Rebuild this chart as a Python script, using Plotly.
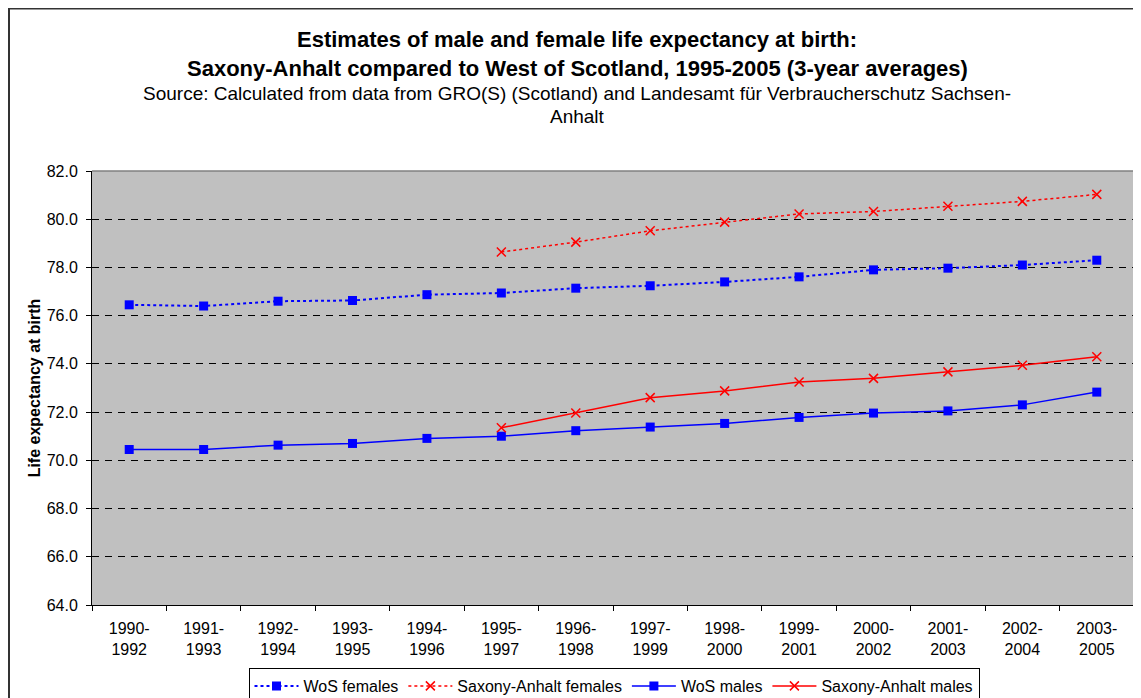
import plotly.graph_objects as go

categories = ["1990-<br>1992", "1991-<br>1993", "1992-<br>1994", "1993-<br>1995", "1994-<br>1996",
              "1995-<br>1997", "1996-<br>1998", "1997-<br>1999", "1998-<br>2000", "1999-<br>2001",
              "2000-<br>2002", "2001-<br>2003", "2002-<br>2004", "2003-<br>2005"]
wos_females = [76.45, 76.40, 76.60, 76.63, 76.87, 76.94, 77.14, 77.24, 77.40, 77.61, 77.90, 77.97, 78.10, 78.30]
sa_females = [None, None, None, None, None, 78.64, 79.05, 79.52, 79.88, 80.22, 80.32, 80.54, 80.74, 81.03]
wos_males = [70.45, 70.45, 70.63, 70.70, 70.91, 71.00, 71.23, 71.38, 71.53, 71.78, 71.96, 72.05, 72.30, 72.83]
sa_males = [None, None, None, None, None, 71.35, 71.96, 72.60, 72.88, 73.25, 73.40, 73.67, 73.94, 74.30]
y_ticks = [64, 66, 68, 70, 72, 74, 76, 78, 80, 82]

FONT = "Liberation Sans, Arial, sans-serif"
W, H = 1141, 698
# the page places the figure 8px from the window's top-left corner
OFF = 8
L, R, T, B = 84, 15, 163, 101
pw = W - L - R
ph = H - T - B

def px_x(p):
    return (p - OFF - L) / pw

def px_y(p):
    return (H - B - (p - OFF)) / ph

fig = go.Figure()
blue = "#0000FF"
red = "#FF0000"
fig.add_trace(go.Scatter(x=categories, y=wos_females, name="WoS females", mode="lines+markers",
                         line=dict(color=blue, width=2, dash="dot"),
                         marker=dict(symbol="square", size=9, color=blue)))
fig.add_trace(go.Scatter(x=categories, y=sa_females, name="Saxony-Anhalt females", mode="lines+markers",
                         line=dict(color=red, width=1.5, dash="dot"),
                         marker=dict(symbol="x-thin", size=9, color=red, line=dict(color=red, width=1.5))))
fig.add_trace(go.Scatter(x=categories, y=wos_males, name="WoS males", mode="lines+markers",
                         line=dict(color=blue, width=1.5),
                         marker=dict(symbol="square", size=9, color=blue)))
fig.add_trace(go.Scatter(x=categories, y=sa_males, name="Saxony-Anhalt males", mode="lines+markers",
                         line=dict(color=red, width=1.5),
                         marker=dict(symbol="x-thin", size=9, color=red, line=dict(color=red, width=1.5))))

fig.update_layout(
    width=W, height=H,
    margin=dict(l=L, r=R, t=T, b=B, pad=0, autoexpand=False),
    paper_bgcolor="white", plot_bgcolor="#C0C0C0",
    font=dict(family=FONT, size=16, color="black"),
    showlegend=True,
    legend=dict(orientation="h", x=px_x(614), xanchor="center", y=px_y(686), yanchor="middle",
                bgcolor="white", bordercolor="black", borderwidth=1,
                font=dict(family=FONT, size=16), tracegroupgap=0, itemwidth=44),
    xaxis=dict(type="category", range=[-0.5, len(categories) - 0.5], tickson="boundaries",
               ticks="outside", ticklen=5, tickcolor="black",
               showline=True, linecolor="black", linewidth=1, showgrid=False, automargin=False,
               tickfont=dict(family=FONT, size=16), ticklabelstandoff=9),
    yaxis=dict(range=[64, 82], tickvals=y_ticks, ticktext=[f"{v:.1f}" for v in y_ticks],
               ticks="outside", ticklen=5, tickcolor="black", automargin=False,
               showline=True, linecolor="black", linewidth=1,
               showgrid=True, gridcolor="black", gridwidth=1, griddash="7px,6px",
               zeroline=False, tickfont=dict(family=FONT, size=16), ticklabelstandoff=5,
               title=dict(text="<b>Life expectancy at birth</b>", font=dict(family=FONT, size=16), standoff=2)),
)

shapes = [
    dict(type="line", xref="paper", yref="paper", x0=0, x1=1, y0=1, y1=1, line=dict(color="#808080", width=1.5), layer="above"),
    dict(type="line", xref="paper", yref="paper", x0=1, x1=1, y0=0, y1=1, line=dict(color="#808080", width=1.5), layer="above"),
    dict(type="line", xref="paper", yref="paper", x0=px_x(8), x1=px_x(1200), y0=px_y(8.5), y1=px_y(8.5), line=dict(color="#333333", width=2)),
    dict(type="line", xref="paper", yref="paper", x0=px_x(9), x1=px_x(9), y0=px_y(8), y1=px_y(760), line=dict(color="#333333", width=2)),
]
fig.update_layout(shapes=shapes)

cx = px_x(577)
ann = [
    dict(text="<b>Estimates of male and female life expectancy at birth:</b>", y=px_y(40), size=22),
    dict(text="<b>Saxony-Anhalt compared to West of Scotland, 1995-2005 (3-year averages)</b>", y=px_y(68), size=22),
    dict(text="Source: Calculated from data from GRO(S) (Scotland) and Landesamt für Verbraucherschutz Sachsen-", y=px_y(93), size=19),
    dict(text="Anhalt", y=px_y(116), size=19),
]
for a in ann:
    fig.add_annotation(text=a["text"], x=cx, y=a["y"], xref="paper", yref="paper", xanchor="center",
                       yanchor="middle", showarrow=False, font=dict(family=FONT, size=a["size"], color="black"))

fig.write_html("out.html")
